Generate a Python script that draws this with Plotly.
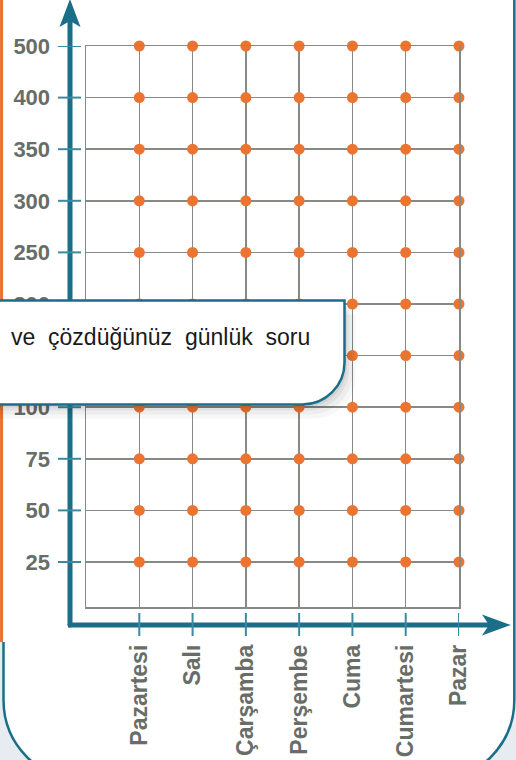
import plotly.graph_objects as go

# ---- data ----
days = ["Pazartesi", "Salı", "Çarşamba", "Perşembe", "Cuma", "Cumartesi", "Pazar"]
levels = [25, 50, 75, 100, 150, 200, 250, 300, 350, 400, 500]
level_labels = [str(v) for v in levels]
callout_text = "ve\u00a0 çözdüğünüz\u00a0 günlük\u00a0 soru"

# ---- style ----
W, H = 516, 760
L, R, T, B = 86, 459, 46, 607          # plot area in pixels
BLUE = "#1a6e88"
TICKBLUE = "#3b8aa3"
ORANGE = "#ec7431"
TXT = "#686d68"
GRID = "#858a84"
OUTBG = "#e6ecef"

x_idx = list(range(len(days)))
y_idx = list(range(len(levels)))
x_range = [-1, len(days) - 1]
y_range = [-0.872, len(levels) - 1]

px_ = lambda x: (x - L) / (R - L)
py_ = lambda y: (B - y) / (B - T)


def P(x, y):
    return f"{px_(x):.5f},{py_(y):.5f}"


fig = go.Figure()

# dots on every intersection
xs = [i for i in x_idx for _ in y_idx]
ys = [j for _ in x_idx for j in y_idx]
fig.add_trace(go.Scatter(
    x=xs, y=ys, mode="markers",
    marker=dict(color=ORANGE, size=11, line=dict(width=0)),
    cliponaxis=False, hoverinfo="skip", showlegend=False,
))

shapes = []
k = 0.5523

# white frame fill with rounded bottom corners
fl, fr, fb, fr_ = 3.5, 514.3, 781, 81
shapes.append(dict(
    type="path", xref="paper", yref="paper", layer="below",
    path=(f"M{P(fl,-10)} L{P(fr,-10)} L{P(fr,fb-fr_)} "
          f"C{P(fr,fb-fr_+k*fr_)} {P(fr-fr_+k*fr_,fb)} {P(fr-fr_,fb)} "
          f"L{P(fl+fr_,fb)} C{P(fl+fr_-k*fr_,fb)} {P(fl,fb-fr_+k*fr_)} {P(fl,fb-fr_)} Z"),
    fillcolor="white", line=dict(width=0),
))
# frame border
shapes.append(dict(
    type="path", xref="paper", yref="paper", layer="above",
    path=(f"M{P(fl,642)} L{P(fl,fb-fr_)} "
          f"C{P(fl,fb-fr_+k*fr_)} {P(fl+fr_-k*fr_,fb)} {P(fl+fr_,fb)} "
          f"L{P(fr-fr_,fb)} C{P(fr-fr_+k*fr_,fb)} {P(fr,fb-fr_+k*fr_)} {P(fr,fb-fr_)} "
          f"L{P(fr,-10)}"),
    line=dict(color=BLUE, width=2.5),
))
# orange strip on the left
shapes.append(dict(type="line", xref="paper", yref="paper", layer="above",
                   x0=px_(1.5), x1=px_(1.5), y0=py_(-5), y1=py_(642),
                   line=dict(color=ORANGE, width=3)))

# blue axes
shapes.append(dict(type="line", xref="paper", yref="paper", layer="above",
                   x0=px_(70), x1=px_(70), y0=py_(20), y1=py_(625),
                   line=dict(color=BLUE, width=5)))
shapes.append(dict(type="line", xref="paper", yref="paper", layer="above",
                   x0=px_(68), x1=px_(490), y0=py_(625), y1=py_(625),
                   line=dict(color=BLUE, width=5)))
shapes.append(dict(type="circle", xref="paper", yref="paper", layer="above",
                   x0=px_(67.5), x1=px_(72.5), y0=py_(622.5), y1=py_(627.5),
                   fillcolor=BLUE, line=dict(width=0)))
# arrowheads
shapes.append(dict(type="path", xref="paper", yref="paper", layer="above",
                   path=f"M{P(70,-1)} L{P(80.5,27)} L{P(70,21)} L{P(59.5,27)} Z",
                   fillcolor=BLUE, line=dict(width=0)))
shapes.append(dict(type="path", xref="paper", yref="paper", layer="above",
                   path=f"M{P(511,625)} L{P(482,614.5)} L{P(489,625)} L{P(482,635.5)} Z",
                   fillcolor=BLUE, line=dict(width=0)))
# tick marks on the blue axes
for j in y_idx:
    shapes.append(dict(type="line", xref="paper", yref="y", layer="above",
                       x0=px_(58), x1=px_(81), y0=j, y1=j,
                       line=dict(color=TICKBLUE, width=2)))
for i in x_idx:
    shapes.append(dict(type="line", xref="x", yref="paper", layer="above",
                       x0=i, x1=i, y0=py_(613), y1=py_(636),
                       line=dict(color=TICKBLUE, width=2)))

# callout box with shadow
cl, ct, cr, cb, rr = -20, 300.5, 344.5, 404.5, 42


def callout(dx, dy):
    return (f"M{P(cl+dx,ct+dy)} L{P(cr+dx,ct+dy)} L{P(cr+dx,cb-rr+dy)} "
            f"C{P(cr+dx,cb-rr+k*rr+dy)} {P(cr-rr+k*rr+dx,cb+dy)} {P(cr-rr+dx,cb+dy)} "
            f"L{P(cl+dx,cb+dy)} Z")


for d, op in [(14, 0.03), (10, 0.04), (6, 0.05), (3, 0.06)]:
    shapes.append(dict(type="path", xref="paper", yref="paper", layer="above",
                       path=callout(d * 0.8, d), fillcolor=f"rgba(0,0,0,{op})",
                       line=dict(width=0)))
shapes.append(dict(type="path", xref="paper", yref="paper", layer="above",
                   path=callout(0, 0), fillcolor="white",
                   line=dict(color=BLUE, width=2.5)))

fig.update_layout(
    width=W, height=H,
    margin=dict(l=L, r=W - R, t=T, b=H - B, pad=0),
    paper_bgcolor=OUTBG, plot_bgcolor="rgba(0,0,0,0)",
    shapes=shapes,
    showlegend=False,
    xaxis=dict(
        range=x_range, tickmode="array", tickvals=x_idx, ticktext=days,
        tickangle=-90, showgrid=True, gridcolor=GRID, gridwidth=1.5,
        zeroline=False, showline=True, mirror=True, linecolor=GRID, linewidth=1.5,
        ticks="", ticklabelstandoff=27, automargin=False,
        tickfont=dict(family="Liberation Sans", size=23, color=TXT, weight="bold"),
        fixedrange=True,
    ),
    yaxis=dict(
        range=y_range, tickmode="array", tickvals=y_idx, ticktext=level_labels,
        showgrid=True, gridcolor=GRID, gridwidth=1.5,
        zeroline=False, showline=True, mirror=True, linecolor=GRID, linewidth=1.5,
        ticks="", ticklabelstandoff=30, automargin=False,
        tickfont=dict(family="Liberation Sans", size=22, color=TXT, weight="bold"),
        fixedrange=True,
    ),
    annotations=[dict(
        xref="paper", yref="paper", x=px_(9), y=py_(337),
        xanchor="left", yanchor="middle", showarrow=False,
        text=callout_text,
        font=dict(family="Liberation Sans", size=23, color="#1a1a1a"),
    )],
)

post = (
    "document.documentElement.style.background='" + OUTBG + "';"
    "document.body.style.margin='0';"
    "document.body.style.overflow='hidden';"
    "var g=document.querySelector('.plotly-graph-div');"
    "g.style.position='fixed';g.style.left='0px';g.style.top='0px';"
)

fig.write_html(
    "out.html",
    config={"displayModeBar": False, "staticPlot": True},
    post_script=post,
)
